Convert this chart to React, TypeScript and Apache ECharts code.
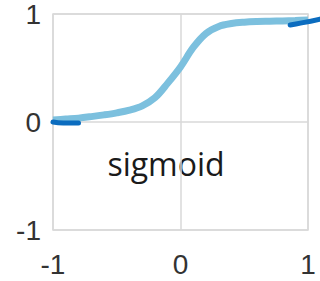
import React, { useEffect, useRef } from "react";
import * as echarts from "echarts";

const curveX = [-1.0, -0.9, -0.8, -0.7, -0.6, -0.5, -0.4, -0.3, -0.2, -0.1, 0.0, 0.1, 0.2, 0.3, 0.4, 0.5, 0.6, 0.7, 0.8, 0.9, 1.0];
const curveY = [0.018, 0.027, 0.036, 0.05, 0.066, 0.085, 0.11, 0.15, 0.225, 0.36, 0.51, 0.69, 0.82, 0.885, 0.912, 0.924, 0.93, 0.933, 0.936, 0.94, 0.945];
const leftMarkX = [-1.0, -0.92, -0.8];
const leftMarkY = [0.0, -0.01, -0.01];
const rightMarkX = [0.86, 0.95, 1.094];
const rightMarkY = [0.88, 0.9, 0.935];
const tickValues = [-1, 0, 1];
const annotation = "sigmoid";

const zip = (xs: number[], ys: number[]) => xs.map((x, i) => [x, ys[i]]);

export default function App() {
  const ref = useRef<HTMLDivElement>(null);
  useEffect(() => {
    if (!ref.current) return;
    const chart = echarts.init(ref.current, undefined, { renderer: "svg" });
    const axisCommon = {
      type: "value" as const,
      min: tickValues[0],
      max: tickValues[tickValues.length - 1],
      interval: 1,
      axisLine: { show: false },
      axisTick: { show: false },
      splitLine: { show: true, lineStyle: { color: "#d9d9d9", width: 1.5 } },
    };
    const hidden = { type: "value" as const, show: false, splitLine: { show: false } };
    chart.setOption({
      animation: false,
      grid: [
        { left: 53, right: 12, top: 12, bottom: 51, show: true, borderColor: "#d9d9d9", borderWidth: 1.5, containLabel: false },
        { left: 53, right: 0, top: 12, bottom: 51, show: false, containLabel: false },
      ],
      xAxis: [
        {
          ...axisCommon,
          gridIndex: 0,
          axisLabel: { fontFamily: "Liberation Sans", fontSize: 28, color: "#333", margin: 20 },
        },
        { ...hidden, gridIndex: 1, min: -1, max: 1.094 },
      ],
      yAxis: [
        {
          ...axisCommon,
          gridIndex: 0,
          axisLabel: { fontFamily: "Liberation Sans", fontSize: 28, color: "#333", margin: 12, padding: [22, 0, 0, 0] },
        },
        { ...hidden, gridIndex: 1, min: -1, max: 1 },
      ],
      series: [
        {
          type: "line",
          data: zip(curveX, curveY),
          smooth: 0.35,
          showSymbol: false,
          lineStyle: { color: "#7cc0de", width: 7 },
        },
        {
          type: "line",
          data: zip(leftMarkX, leftMarkY),
          smooth: true,
          showSymbol: false,
          clip: false,
          lineStyle: { color: "#0b6cbf", width: 5, cap: "round" },
        },
        {
          type: "line",
          xAxisIndex: 1,
          yAxisIndex: 1,
          data: zip(rightMarkX, rightMarkY),
          smooth: true,
          showSymbol: false,
          clip: false,
          lineStyle: { color: "#0b6cbf", width: 5, cap: "round" },
        },
      ],
      graphic: [
        {
          type: "text",
          x: 166,
          y: 163,
          style: {
            text: annotation,
            font: '32px "Open Sans"',
            fill: "#1a1a1a",
            textAlign: "center",
            textVerticalAlign: "middle",
          },
        },
      ],
    });
    return () => chart.dispose();
  }, []);
  return <div ref={ref} style={{ width: 320, height: 281, position: "absolute", left: 0, top: 0 }} />;
}
